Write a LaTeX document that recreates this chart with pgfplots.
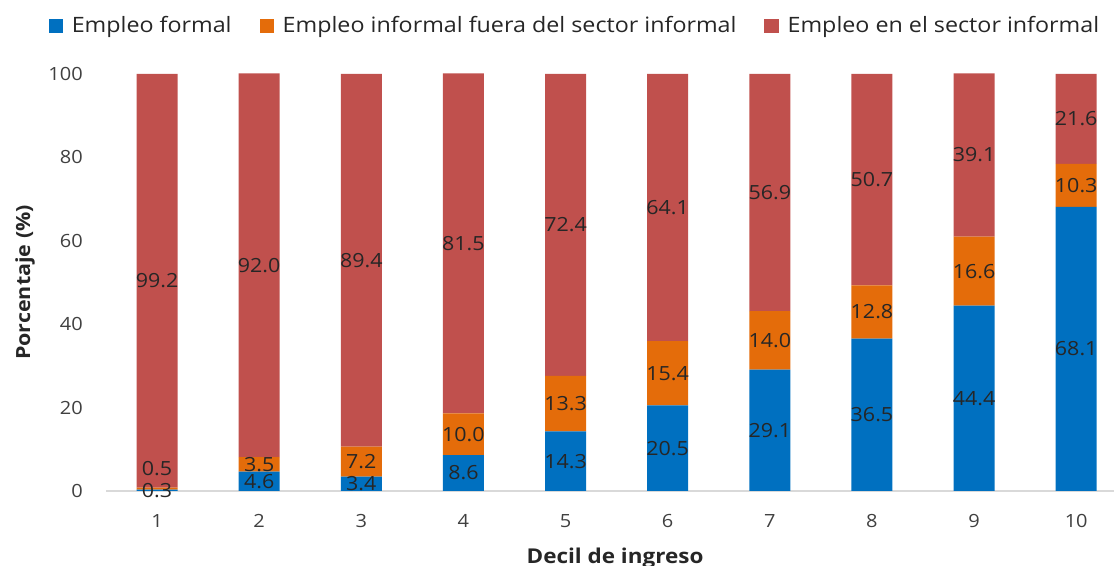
\documentclass[border=0pt]{standalone}
\usepackage{pgfplots}
\pgfplotsset{compat=1.18}
\usepackage{pgfplotstable}
\usepackage{fontspec}
\setmainfont{Open Sans}[FakeStretch=1.1]
\definecolor{cformal}{HTML}{0070C0}
\definecolor{cinf}{HTML}{E46C0A}
\definecolor{csect}{HTML}{C0504D}
\definecolor{ctxt}{HTML}{262626}
\definecolor{ctick}{HTML}{404040}
\definecolor{caxis}{HTML}{D9D9D9}

\pgfplotstableread{
x formal informal sector dyi
1 0.3 0.5 99.2 11
2 4.6 3.5 92.0 0
3 3.4 7.2 89.4 0
4 8.6 10.0 81.5 0
5 14.3 13.3 72.4 0
6 20.5 15.4 64.1 0
7 29.1 14.0 56.9 0
8 36.5 12.8 50.7 0
9 44.4 16.6 39.1 0
10 68.1 10.3 21.6 0
}\datatable

\begin{document}
\begin{tikzpicture}
\useasboundingbox (0,0) rectangle (600pt,304.8pt);
\begin{axis}[
  at={(57.1pt,40.4pt)}, anchor=south west,
  scale only axis, width=542.9pt, height=224.6pt,
  ybar stacked, bar width=22.1pt,
  xmin=0.5, xmax=10.37, ymin=0, ymax=100,
  xtick={1,...,10}, ytick={0,20,...,100},
  major tick length=0pt,
  /pgf/number format/assume math mode=true,
  axis x line=bottom, axis y line=left, axis line style={-},
  x axis line style={draw=caxis, line width=1.1pt},
  y axis line style={draw=none},
  tick label style={font=\fontsize{9.8}{12}\selectfont, text=ctick},
  xticklabel style={yshift=-9pt},
  yticklabel style={xshift=-9pt},
  xlabel={Decil de ingreso},
  ylabel={Porcentaje (\%)},
  label style={font=\bfseries\fontsize{10.5}{12}\selectfont, text=ctxt},
  xlabel style={at={(axis description cs:0.505,-0.1607)}, anchor=center, font=\bfseries\fontsize{11}{12}\selectfont},
  ylabel style={at={(axis description cs:-0.0803,0.5)}, anchor=center},
  legend style={at={(axis description cs:0.466,1.115)}, anchor=center,
    legend columns=3, draw=none, font=\fontsize{11.4}{13}\selectfont, text=ctxt,
    /tikz/every odd column/.append style={column sep=2.5pt},
    /tikz/every even column/.append style={column sep=13pt}},
  legend image code/.code={\fill[#1] (0pt,-4pt) rectangle (8pt,4pt);},
  point meta=explicit,
  nodes near coords,
  every node near coord/.append style={font=\fontsize{10.5}{12}\selectfont, text=ctxt,
    /pgf/number format/fixed, /pgf/number format/fixed zerofill, /pgf/number format/precision=1,
    /pgf/number format/assume math mode=true},
  clip=false,
]
\addplot[fill=cformal, draw=none,
  nodes near coords style={anchor=center}]
  table[x=x, y=formal, meta=formal]{\datatable};
\addplot[fill=cinf, draw=none,
  visualization depends on={\thisrow{dyi} \as \dy},
  nodes near coords style={anchor=center, yshift={\dy pt}}]
  table[x=x, y=informal, meta=informal]{\datatable};
\addplot[fill=csect, draw=none,
  nodes near coords style={anchor=center}]
  table[x=x, y=sector, meta=sector]{\datatable};
\legend{Empleo formal, Empleo informal fuera del sector informal, Empleo en el sector informal}
\end{axis}
\end{tikzpicture}
\end{document}
